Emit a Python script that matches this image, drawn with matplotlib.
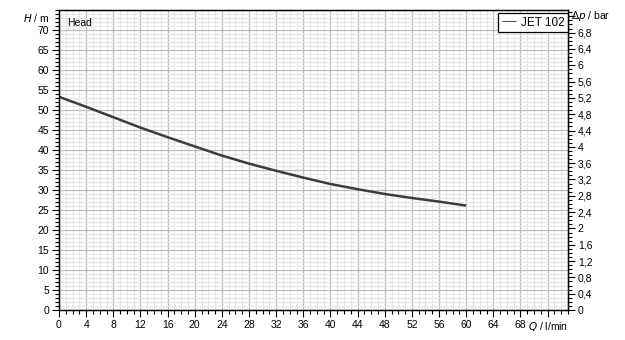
import matplotlib
matplotlib.use("Agg")
import matplotlib.pyplot as plt
from matplotlib.ticker import MultipleLocator, FuncFormatter, FixedLocator

# pump curve
q = [0, 4, 8, 12, 16, 20, 24, 28, 32, 36, 40, 44, 48, 52, 56, 60]          # l/min
head = [53.3, 50.8, 48.2, 45.6, 43.2, 40.9, 38.6, 36.6, 34.8, 33.1,
        31.5, 30.2, 29.0, 28.0, 27.1, 26.1]                                 # m
series_name = "JET 102"
x_ticks = list(range(0, 69, 4))
y_ticks = list(range(0, 71, 5))
bar_ticks = [round(0.4 * i, 1) for i in range(18)]   # 0 .. 6,8
M_PER_BAR = 10.197

plt.rcParams['font.family'] = ['Liberation Sans', 'DejaVu Sans']
plt.rcParams['font.size'] = 7.5

fig = plt.figure(figsize=(6.25, 3.4), dpi=100)
ax = fig.add_axes([59 / 625, 30 / 340, 509 / 625, 300 / 340])

ax.set_xlim(0, 75)
ax.set_ylim(0, 75)

ax.xaxis.set_major_locator(FixedLocator(list(range(0, 73, 4))))
ax.xaxis.set_minor_locator(MultipleLocator(1))
ax.yaxis.set_major_locator(FixedLocator(y_ticks))
ax.yaxis.set_minor_locator(MultipleLocator(1))
ax.xaxis.set_major_formatter(FuncFormatter(lambda v, p: f"{int(v)}" if v in x_ticks else ""))
ax.yaxis.set_major_formatter(FuncFormatter(lambda v, p: f"{int(v)}"))

ax.grid(which='minor', color='#e6e6e6', lw=0.8)
ax.grid(which='major', color='#bdbdbd', lw=0.9)
ax.set_axisbelow(True)

ax.tick_params(which='major', direction='out', length=5, width=0.8, color='black', pad=2)
ax.tick_params(which='minor', direction='out', length=3, width=0.8, color='black')
for s in ax.spines.values():
    s.set_color('black')
    s.set_linewidth(0.9)

line, = ax.plot(q, head, color='#3c3c3c', lw=1.8, label=series_name, solid_capstyle='butt')

# right axis in bar
ax2 = ax.twinx()
ax2.set_ylim(0, 75 / M_PER_BAR)
ax2.yaxis.set_major_locator(FixedLocator(bar_ticks + [7.2]))
ax2.yaxis.set_minor_locator(MultipleLocator(0.1))
ax2.yaxis.set_major_formatter(FuncFormatter(
    lambda v, p: "" if v > 7 else (f"{v:g}".replace('.', ','))))
ax2.tick_params(which='major', direction='out', length=5, width=0.8, pad=2)
ax2.tick_params(which='minor', direction='out', length=3, width=0.8)
for s in ax2.spines.values():
    s.set_color('black')
    s.set_linewidth(0.9)

# axis captions placed where the ticks would be
ax.text(-0.019, 73 / 75, r"$H$ / m", transform=ax.transAxes, ha='right', va='center')
ax.text(0.015, 0.975, "Head", transform=ax.transAxes, ha='left', va='top')
ax2.text(1.006, 7.2, r"$\Delta p$ / bar", transform=ax2.get_yaxis_transform(),
         ha='left', va='center')
ax.text(72, -2.6, r"$Q$ / l/min", ha='center', va='top')

leg = ax.legend(loc='upper right', bbox_to_anchor=(1.0, 0.99), borderaxespad=0,
                frameon=True, fancybox=False, framealpha=1,
                handlelength=1.2, handletextpad=0.4, borderpad=0.3,
                fontsize=8.5)
leg.get_frame().set_edgecolor('black')
leg.get_frame().set_linewidth(0.9)
for h in leg.get_lines():
    h.set_linewidth(0.8)
    h.set_color('#555555')

fig.savefig("out.png", dpi=100)
